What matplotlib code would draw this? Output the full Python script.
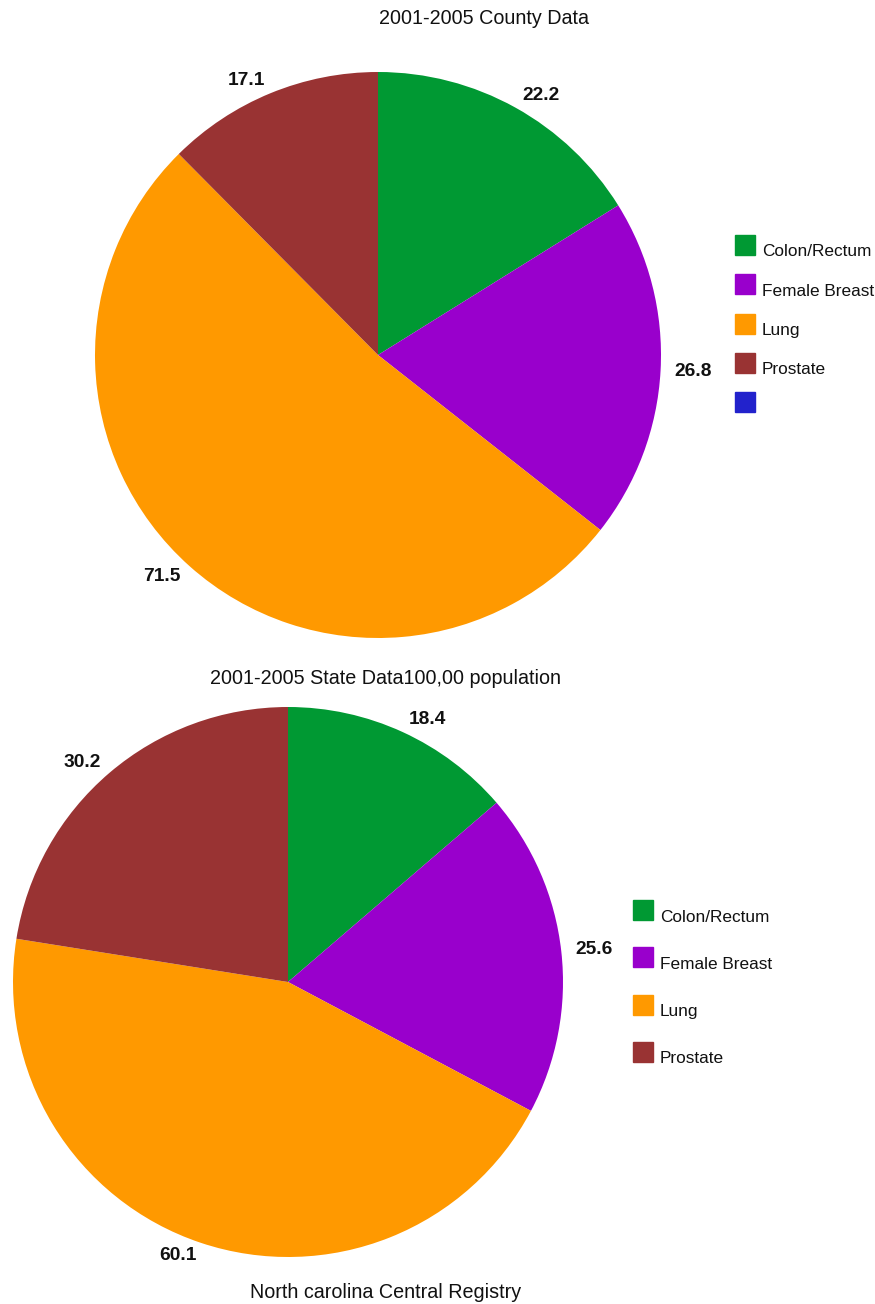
import matplotlib.pyplot as plt
from matplotlib.patches import Rectangle

plt.rcParams['font.family'] = ['Liberation Sans', 'DejaVu Sans']

sites = ['Colon/Rectum', 'Female Breast', 'Lung', 'Prostate']
county_rates = [22.2, 26.8, 71.5, 17.1]
state_rates = [18.4, 25.6, 60.1, 30.2]
colors = ['#009933', '#9900cc', '#ff9900', '#993333']
extra_color = '#2222cc'

W, H = 875, 1304
fig = plt.figure(figsize=(W / 100, H / 100), dpi=100)


def px_axes(cx, cy, r):
    # square axes around a pie centre given in pixels (y from top)
    return fig.add_axes([(cx - r) / W, (H - cy - r) / H, 2 * r / W, 2 * r / H])


def draw_pie(ax, vals):
    ax.pie(vals, colors=colors, labels=[f'{v:.1f}' for v in vals],
           startangle=90, counterclock=False, radius=1,
           labeldistance=1.05,
           textprops={'fontsize': 13.8, 'fontweight': 'bold', 'color': '#111111'})
    ax.set_xlim(-1, 1)
    ax.set_ylim(-1, 1)
    ax.set_aspect('equal')
    ax.axis('off')


def draw_legend(x0, y0, step, labels, cols):
    for i, (lab, c) in enumerate(zip(labels, cols)):
        yc = y0 + i * step
        fig.patches.append(Rectangle((x0 / W, (H - yc - 10) / H), 20 / W, 20 / H,
                                     transform=fig.transFigure, color=c))
        fig.text((x0 + 27) / W, (H - yc - 7) / H, lab, fontsize=12.4,
                 va='center', ha='left', color='#111111')


ax1 = px_axes(378, 355, 283)
draw_pie(ax1, county_rates)
ax2 = px_axes(288, 982, 275)
draw_pie(ax2, state_rates)

fig.text(484 / W, 1 - 18 / H, '2001-2005 County Data', ha='center', va='center',
         fontsize=14.2, color='#111111')
fig.text(385 / W, 1 - 678 / H, '2001-2005 State Data100,00 population', ha='center',
         va='center', fontsize=14.2, color='#111111')
fig.text(386 / W, 1 - 1292 / H, 'North carolina Central Registry', ha='center',
         va='center', fontsize=14.2, color='#111111')

draw_legend(735, 245, 39.3, sites + [''], colors + [extra_color])
draw_legend(633, 910, 47.3, sites, colors)

fig.savefig('out.png', dpi=100)
